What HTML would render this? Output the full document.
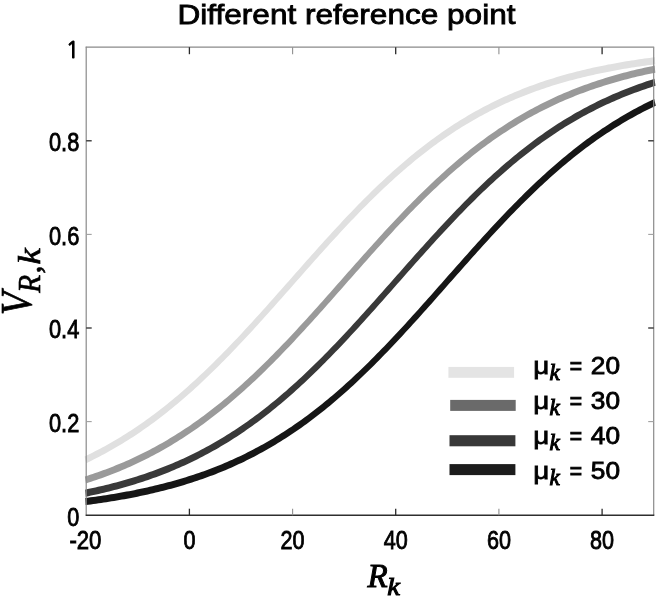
<!DOCTYPE html>
<html lang="en"><head><meta charset="utf-8"><title>Different reference point</title>
<style>
html,body{margin:0;padding:0;background:#fff;}
body{width:657px;height:597px;overflow:hidden;}
svg{display:block;}
text{font-family:"Liberation Sans",Arial,sans-serif;fill:#000;}
.tk{font-size:25px;stroke:#000;stroke-width:0.85px;}
.lg text,.lg tspan{stroke:#000;stroke-width:0.8px;}
.tt text{stroke:#000;stroke-width:0.85px;}
.ax text{stroke:#000;stroke-width:0.7px;}
.xl text{stroke-width:1px;}
.it{font-family:"Liberation Serif","DejaVu Serif",serif;font-style:italic;}
</style></head><body>
<svg width="657" height="597" viewBox="0 0 657 597">
<rect width="657" height="597" fill="#fff"/>
<defs><clipPath id="c"><rect x="83.2" y="47.2" width="573.5" height="468.0"/></clipPath></defs>

<g clip-path="url(#c)"><g transform="scale(0.70,1)" fill="none" stroke-width="7.1" stroke-linejoin="round">
<path d="M122.04 459.78 L125.74 458.54 L129.43 457.28 L133.13 456.00 L136.83 454.69 L140.53 453.35 L144.23 451.99 L147.93 450.61 L151.63 449.20 L155.32 447.76 L159.02 446.30 L162.72 444.81 L166.42 443.30 L170.12 441.76 L173.82 440.19 L177.51 438.60 L181.21 436.98 L184.91 435.33 L188.61 433.66 L192.31 431.95 L196.01 430.22 L199.71 428.46 L203.40 426.67 L207.10 424.86 L210.80 423.02 L214.50 421.14 L218.20 419.25 L221.90 417.32 L225.59 415.36 L229.29 413.38 L232.99 411.36 L236.69 409.32 L240.39 407.25 L244.09 405.15 L247.79 403.03 L251.48 400.87 L255.18 398.69 L258.88 396.48 L262.58 394.25 L266.28 391.98 L269.98 389.69 L273.67 387.37 L277.37 385.03 L281.07 382.66 L284.77 380.26 L288.47 377.84 L292.17 375.39 L295.87 372.92 L299.56 370.42 L303.26 367.90 L306.96 365.36 L310.66 362.79 L314.36 360.20 L318.06 357.59 L321.75 354.95 L325.45 352.30 L329.15 349.63 L332.85 346.93 L336.55 344.22 L340.25 341.49 L343.95 338.74 L347.64 335.97 L351.34 333.19 L355.04 330.39 L358.74 327.57 L362.44 324.75 L366.14 321.91 L369.83 319.05 L373.53 316.19 L377.23 313.31 L380.93 310.43 L384.63 307.54 L388.33 304.63 L392.03 301.72 L395.72 298.81 L399.42 295.89 L403.12 292.96 L406.82 290.03 L410.52 287.10 L414.22 284.16 L417.91 281.23 L421.61 278.29 L425.31 275.36 L429.01 272.42 L432.71 269.49 L436.41 266.57 L440.11 263.65 L443.80 260.73 L447.50 257.82 L451.20 254.92 L454.90 252.02 L458.60 249.14 L462.30 246.26 L465.99 243.40 L469.69 240.54 L473.39 237.70 L477.09 234.88 L480.79 232.06 L484.49 229.26 L488.19 226.48 L491.88 223.71 L495.58 220.96 L499.28 218.23 L502.98 215.52 L506.68 212.82 L510.38 210.15 L514.07 207.49 L517.77 204.86 L521.47 202.25 L525.17 199.66 L528.87 197.09 L532.57 194.54 L536.27 192.02 L539.96 189.53 L543.66 187.05 L547.36 184.61 L551.06 182.18 L554.76 179.79 L558.46 177.41 L562.15 175.07 L565.85 172.75 L569.55 170.46 L573.25 168.19 L576.95 165.96 L580.65 163.75 L584.35 161.57 L588.04 159.41 L591.74 157.28 L595.44 155.19 L599.14 153.12 L602.84 151.07 L606.54 149.06 L610.23 147.08 L613.93 145.12 L617.63 143.19 L621.33 141.29 L625.03 139.42 L628.73 137.57 L632.43 135.76 L636.12 133.97 L639.82 132.21 L643.52 130.48 L647.22 128.78 L650.92 127.10 L654.62 125.45 L658.31 123.83 L662.01 122.23 L665.71 120.67 L669.41 119.13 L673.11 117.61 L676.81 116.12 L680.51 114.66 L684.20 113.23 L687.90 111.82 L691.60 110.43 L695.30 109.07 L699.00 107.74 L702.70 106.43 L706.39 105.14 L710.09 103.88 L713.79 102.64 L717.49 101.43 L721.19 100.24 L724.89 99.07 L728.59 97.92 L732.28 96.80 L735.98 95.70 L739.68 94.62 L743.38 93.56 L747.08 92.52 L750.78 91.50 L754.47 90.51 L758.17 89.53 L761.87 88.58 L765.57 87.64 L769.27 86.72 L772.97 85.82 L776.67 84.94 L780.36 84.08 L784.06 83.24 L787.76 82.41 L791.46 81.60 L795.16 80.81 L798.86 80.04 L802.55 79.28 L806.25 78.54 L809.95 77.81 L813.65 77.10 L817.35 76.41 L821.05 75.73 L824.75 75.06 L828.44 74.41 L832.14 73.78 L835.84 73.16 L839.54 72.55 L843.24 71.95 L846.94 71.37 L850.63 70.80 L854.33 70.25 L858.03 69.70 L861.73 69.17 L865.43 68.65 L869.13 68.14 L872.83 67.65 L876.52 67.16 L880.22 66.69 L883.92 66.22 L887.62 65.77 L891.32 65.33 L895.02 64.90 L898.72 64.48 L902.41 64.06 L906.11 63.66 L909.81 63.27 L913.51 62.88 L917.21 62.50 L920.91 62.14 L924.60 61.78 L928.30 61.43 L932.00 61.09 L935.70 60.75" stroke="#e0e0e0"/>
<path d="M122.04 479.94 L125.74 479.12 L129.43 478.27 L133.13 477.41 L136.83 476.53 L140.53 475.63 L144.23 474.71 L147.93 473.77 L151.63 472.82 L155.32 471.84 L159.02 470.84 L162.72 469.82 L166.42 468.79 L170.12 467.73 L173.82 466.64 L177.51 465.54 L181.21 464.42 L184.91 463.27 L188.61 462.10 L192.31 460.91 L196.01 459.69 L199.71 458.45 L203.40 457.19 L207.10 455.90 L210.80 454.59 L214.50 453.25 L218.20 451.89 L221.90 450.51 L225.59 449.10 L229.29 447.66 L232.99 446.20 L236.69 444.71 L240.39 443.19 L244.09 441.65 L247.79 440.08 L251.48 438.48 L255.18 436.86 L258.88 435.21 L262.58 433.53 L266.28 431.83 L269.98 430.09 L273.67 428.33 L277.37 426.54 L281.07 424.73 L284.77 422.88 L288.47 421.01 L292.17 419.11 L295.87 417.18 L299.56 415.22 L303.26 413.23 L306.96 411.22 L310.66 409.17 L314.36 407.10 L318.06 405.00 L321.75 402.87 L325.45 400.72 L329.15 398.53 L332.85 396.32 L336.55 394.08 L340.25 391.82 L343.95 389.52 L347.64 387.20 L351.34 384.86 L355.04 382.48 L358.74 380.09 L362.44 377.66 L366.14 375.21 L369.83 372.74 L373.53 370.24 L377.23 367.72 L380.93 365.17 L384.63 362.60 L388.33 360.01 L392.03 357.40 L395.72 354.76 L399.42 352.11 L403.12 349.43 L406.82 346.73 L410.52 344.02 L414.22 341.29 L417.91 338.54 L421.61 335.77 L425.31 332.98 L429.01 330.18 L432.71 327.37 L436.41 324.54 L440.11 321.70 L443.80 318.85 L447.50 315.98 L451.20 313.11 L454.90 310.22 L458.60 307.33 L462.30 304.42 L465.99 301.51 L469.69 298.60 L473.39 295.67 L477.09 292.75 L480.79 289.82 L484.49 286.88 L488.19 283.95 L491.88 281.01 L495.58 278.08 L499.28 275.14 L502.98 272.21 L506.68 269.28 L510.38 266.36 L514.07 263.43 L517.77 260.52 L521.47 257.61 L525.17 254.71 L528.87 251.81 L532.57 248.93 L536.27 246.05 L539.96 243.19 L543.66 240.34 L547.36 237.50 L551.06 234.67 L554.76 231.86 L558.46 229.06 L562.15 226.28 L565.85 223.51 L569.55 220.77 L573.25 218.03 L576.95 215.32 L580.65 212.63 L584.35 209.96 L588.04 207.30 L591.74 204.67 L595.44 202.06 L599.14 199.47 L602.84 196.90 L606.54 194.36 L610.23 191.84 L613.93 189.35 L617.63 186.88 L621.33 184.43 L625.03 182.01 L628.73 179.61 L632.43 177.24 L636.12 174.90 L639.82 172.58 L643.52 170.29 L647.22 168.03 L650.92 165.80 L654.62 163.59 L658.31 161.41 L662.01 159.26 L665.71 157.13 L669.41 155.04 L673.11 152.97 L676.81 150.93 L680.51 148.92 L684.20 146.93 L687.90 144.98 L691.60 143.05 L695.30 141.15 L699.00 139.28 L702.70 137.44 L706.39 135.63 L710.09 133.84 L713.79 132.08 L717.49 130.35 L721.19 128.65 L724.89 126.98 L728.59 125.33 L732.28 123.71 L735.98 122.12 L739.68 120.55 L743.38 119.02 L747.08 117.50 L750.78 116.02 L754.47 114.56 L758.17 113.12 L761.87 111.72 L765.57 110.33 L769.27 108.97 L772.97 107.64 L776.67 106.33 L780.36 105.05 L784.06 103.79 L787.76 102.55 L791.46 101.34 L795.16 100.15 L798.86 98.98 L802.55 97.84 L806.25 96.72 L809.95 95.62 L813.65 94.54 L817.35 93.48 L821.05 92.45 L824.75 91.43 L828.44 90.44 L832.14 89.46 L835.84 88.51 L839.54 87.57 L843.24 86.66 L846.94 85.76 L850.63 84.88 L854.33 84.02 L858.03 83.18 L861.73 82.35 L865.43 81.55 L869.13 80.76 L872.83 79.98 L876.52 79.23 L880.22 78.49 L883.92 77.76 L887.62 77.05 L891.32 76.36 L895.02 75.68 L898.72 75.02 L902.41 74.37 L906.11 73.73 L909.81 73.11 L913.51 72.50 L917.21 71.91 L920.91 71.33 L924.60 70.76 L928.30 70.21 L932.00 69.66 L935.70 69.13" stroke="#9a9a9a"/>
<path d="M122.04 493.16 L125.74 492.63 L129.43 492.08 L133.13 491.53 L136.83 490.96 L140.53 490.37 L144.23 489.78 L147.93 489.17 L151.63 488.54 L155.32 487.91 L159.02 487.25 L162.72 486.59 L166.42 485.90 L170.12 485.21 L173.82 484.50 L177.51 483.77 L181.21 483.02 L184.91 482.26 L188.61 481.49 L192.31 480.69 L196.01 479.88 L199.71 479.06 L203.40 478.21 L207.10 477.35 L210.80 476.46 L214.50 475.56 L218.20 474.64 L221.90 473.70 L225.59 472.75 L229.29 471.77 L232.99 470.77 L236.69 469.75 L240.39 468.71 L244.09 467.65 L247.79 466.57 L251.48 465.46 L255.18 464.33 L258.88 463.19 L262.58 462.01 L266.28 460.82 L269.98 459.60 L273.67 458.36 L277.37 457.10 L281.07 455.81 L284.77 454.49 L288.47 453.16 L292.17 451.79 L295.87 450.41 L299.56 448.99 L303.26 447.55 L306.96 446.09 L310.66 444.60 L314.36 443.08 L318.06 441.54 L321.75 439.96 L325.45 438.37 L329.15 436.74 L332.85 435.09 L336.55 433.41 L340.25 431.70 L343.95 429.97 L347.64 428.20 L351.34 426.41 L355.04 424.59 L358.74 422.75 L362.44 420.87 L366.14 418.97 L369.83 417.04 L373.53 415.07 L377.23 413.09 L380.93 411.07 L384.63 409.02 L388.33 406.95 L392.03 404.85 L395.72 402.72 L399.42 400.56 L403.12 398.37 L406.82 396.16 L410.52 393.92 L414.22 391.65 L417.91 389.36 L421.61 387.03 L425.31 384.69 L429.01 382.31 L432.71 379.91 L436.41 377.49 L440.11 375.03 L443.80 372.56 L447.50 370.06 L451.20 367.53 L454.90 364.99 L458.60 362.42 L462.30 359.82 L465.99 357.21 L469.69 354.57 L473.39 351.91 L477.09 349.24 L480.79 346.54 L484.49 343.82 L488.19 341.09 L491.88 338.34 L495.58 335.57 L499.28 332.78 L502.98 329.98 L506.68 327.17 L510.38 324.34 L514.07 321.49 L517.77 318.64 L521.47 315.77 L525.17 312.90 L528.87 310.01 L532.57 307.12 L536.27 304.21 L539.96 301.30 L543.66 298.38 L547.36 295.46 L551.06 292.53 L554.76 289.60 L558.46 286.67 L562.15 283.74 L565.85 280.80 L569.55 277.87 L573.25 274.93 L576.95 272.00 L580.65 269.07 L584.35 266.14 L588.04 263.22 L591.74 260.31 L595.44 257.40 L599.14 254.50 L602.84 251.60 L606.54 248.72 L610.23 245.85 L613.93 242.98 L617.63 240.13 L621.33 237.29 L625.03 234.47 L628.73 231.66 L632.43 228.86 L636.12 226.08 L639.82 223.31 L643.52 220.57 L647.22 217.84 L650.92 215.13 L654.62 212.43 L658.31 209.76 L662.01 207.11 L665.71 204.48 L669.41 201.87 L673.11 199.28 L676.81 196.72 L680.51 194.18 L684.20 191.66 L687.90 189.17 L691.60 186.70 L695.30 184.25 L699.00 181.83 L702.70 179.44 L706.39 177.07 L710.09 174.73 L713.79 172.42 L717.49 170.13 L721.19 167.87 L724.89 165.64 L728.59 163.43 L732.28 161.25 L735.98 159.10 L739.68 156.98 L743.38 154.88 L747.08 152.82 L750.78 150.78 L754.47 148.77 L758.17 146.79 L761.87 144.84 L765.57 142.91 L769.27 141.02 L772.97 139.15 L776.67 137.31 L780.36 135.50 L784.06 133.71 L787.76 131.96 L791.46 130.23 L795.16 128.53 L798.86 126.86 L802.55 125.21 L806.25 123.60 L809.95 122.01 L813.65 120.44 L817.35 118.91 L821.05 117.40 L824.75 115.91 L828.44 114.45 L832.14 113.02 L835.84 111.61 L839.54 110.23 L843.24 108.88 L846.94 107.55 L850.63 106.24 L854.33 104.96 L858.03 103.70 L861.73 102.46 L865.43 101.25 L869.13 100.06 L872.83 98.90 L876.52 97.76 L880.22 96.64 L883.92 95.54 L887.62 94.46 L891.32 93.41 L895.02 92.37 L898.72 91.36 L902.41 90.36 L906.11 89.39 L909.81 88.44 L913.51 87.50 L917.21 86.59 L920.91 85.69 L924.60 84.82 L928.30 83.96 L932.00 83.12 L935.70 82.29" stroke="#393939"/>
<path d="M122.04 501.58 L125.74 501.25 L129.43 500.90 L133.13 500.55 L136.83 500.19 L140.53 499.82 L144.23 499.44 L147.93 499.06 L151.63 498.66 L155.32 498.26 L159.02 497.84 L162.72 497.42 L166.42 496.98 L170.12 496.54 L173.82 496.08 L177.51 495.62 L181.21 495.14 L184.91 494.65 L188.61 494.16 L192.31 493.65 L196.01 493.12 L199.71 492.59 L203.40 492.04 L207.10 491.49 L210.80 490.91 L214.50 490.33 L218.20 489.73 L221.90 489.12 L225.59 488.50 L229.29 487.86 L232.99 487.21 L236.69 486.54 L240.39 485.85 L244.09 485.16 L247.79 484.44 L251.48 483.72 L255.18 482.97 L258.88 482.21 L262.58 481.43 L266.28 480.64 L269.98 479.82 L273.67 479.00 L277.37 478.15 L281.07 477.28 L284.77 476.40 L288.47 475.50 L292.17 474.58 L295.87 473.64 L299.56 472.68 L303.26 471.70 L306.96 470.70 L310.66 469.67 L314.36 468.63 L318.06 467.57 L321.75 466.49 L325.45 465.38 L329.15 464.25 L332.85 463.10 L336.55 461.93 L340.25 460.73 L343.95 459.51 L347.64 458.27 L351.34 457.00 L355.04 455.71 L358.74 454.40 L362.44 453.06 L366.14 451.69 L369.83 450.30 L373.53 448.89 L377.23 447.45 L380.93 445.98 L384.63 444.49 L388.33 442.97 L392.03 441.42 L395.72 439.85 L399.42 438.25 L403.12 436.62 L406.82 434.97 L410.52 433.29 L414.22 431.58 L417.91 429.84 L421.61 428.08 L425.31 426.28 L429.01 424.46 L432.71 422.61 L436.41 420.73 L440.11 418.83 L443.80 416.89 L447.50 414.93 L451.20 412.94 L454.90 410.92 L458.60 408.87 L462.30 406.80 L465.99 404.69 L469.69 402.56 L473.39 400.40 L477.09 398.21 L480.79 396.00 L484.49 393.76 L488.19 391.49 L491.88 389.19 L495.58 386.87 L499.28 384.51 L502.98 382.14 L506.68 379.74 L510.38 377.31 L514.07 374.86 L517.77 372.38 L521.47 369.88 L525.17 367.35 L528.87 364.80 L532.57 362.23 L536.27 359.63 L539.96 357.02 L543.66 354.38 L547.36 351.72 L551.06 349.04 L554.76 346.34 L558.46 343.62 L562.15 340.89 L565.85 338.14 L569.55 335.37 L573.25 332.58 L576.95 329.78 L580.65 326.96 L584.35 324.13 L588.04 321.29 L591.74 318.43 L595.44 315.57 L599.14 312.69 L602.84 309.80 L606.54 306.90 L610.23 304.00 L613.93 301.09 L617.63 298.17 L621.33 295.25 L625.03 292.32 L628.73 289.39 L632.43 286.46 L636.12 283.52 L639.82 280.59 L643.52 277.65 L647.22 274.72 L650.92 271.79 L654.62 268.86 L658.31 265.93 L662.01 263.01 L665.71 260.10 L669.41 257.19 L673.11 254.29 L676.81 251.39 L680.51 248.51 L684.20 245.64 L687.90 242.78 L691.60 239.93 L695.30 237.09 L699.00 234.26 L702.70 231.45 L706.39 228.66 L710.09 225.88 L713.79 223.11 L717.49 220.37 L721.19 217.64 L724.89 214.93 L728.59 212.24 L732.28 209.57 L735.98 206.92 L739.68 204.29 L743.38 201.68 L747.08 199.10 L750.78 196.53 L754.47 193.99 L758.17 191.48 L761.87 188.99 L765.57 186.52 L769.27 184.08 L772.97 181.66 L776.67 179.27 L780.36 176.90 L784.06 174.56 L787.76 172.25 L791.46 169.96 L795.16 167.71 L798.86 165.47 L802.55 163.27 L806.25 161.09 L809.95 158.95 L813.65 156.83 L817.35 154.73 L821.05 152.67 L824.75 150.63 L828.44 148.63 L832.14 146.65 L835.84 144.70 L839.54 142.77 L843.24 140.88 L846.94 139.01 L850.63 137.18 L854.33 135.37 L858.03 133.59 L861.73 131.83 L865.43 130.11 L869.13 128.41 L872.83 126.74 L876.52 125.10 L880.22 123.48 L883.92 121.89 L887.62 120.33 L891.32 118.80 L895.02 117.29 L898.72 115.80 L902.41 114.35 L906.11 112.92 L909.81 111.51 L913.51 110.13 L917.21 108.78 L920.91 107.45 L924.60 106.15 L928.30 104.87 L932.00 103.61 L935.70 102.38" stroke="#161616"/>
</g></g>
<g fill="none" stroke="#8a8a8a" stroke-width="1.2">
<path d="M85.7 47.2 H654.2"/>
<path d="M86.2 46.7 V515.7"/>
<path d="M653.7 47.2 V515.2"/>
</g>
<path d="M85.7 515.2 H654.3" stroke="#2e2e2e" stroke-width="1.5" fill="none"/>
<g fill="none">
<path d="M189.4 515.2 v-6.5" stroke="#2a2a2a" stroke-width="1.3"/>
<path d="M189.4 47.2 v7" stroke="#2a2a2a" stroke-width="1.3"/>
<path d="M292.6 515.2 v-6.5" stroke="#909090" stroke-width="1.1"/>
<path d="M292.6 47.2 v7" stroke="#909090" stroke-width="1.1"/>
<path d="M395.7 515.2 v-6.5" stroke="#2a2a2a" stroke-width="1.3"/>
<path d="M395.7 47.2 v7" stroke="#2a2a2a" stroke-width="1.3"/>
<path d="M498.9 515.2 v-6.5" stroke="#909090" stroke-width="1.1"/>
<path d="M498.9 47.2 v7" stroke="#909090" stroke-width="1.1"/>
<path d="M602.1 515.2 v-6.5" stroke="#2a2a2a" stroke-width="1.3"/>
<path d="M602.1 47.2 v7" stroke="#2a2a2a" stroke-width="1.3"/>
<path d="M86.2 421.6 h5.5" stroke="#a0a0a0" stroke-width="1.1"/>
<path d="M653.7 421.6 h-5.5" stroke="#a0a0a0" stroke-width="1.1"/>
<path d="M86.2 328.0 h5.5" stroke="#2a2a2a" stroke-width="1.3"/>
<path d="M653.7 328.0 h-5.5" stroke="#2a2a2a" stroke-width="1.3"/>
<path d="M86.2 234.4 h5.5" stroke="#a0a0a0" stroke-width="1.1"/>
<path d="M653.7 234.4 h-5.5" stroke="#a0a0a0" stroke-width="1.1"/>
<path d="M86.2 140.8 h5.5" stroke="#2a2a2a" stroke-width="1.3"/>
<path d="M653.7 140.8 h-5.5" stroke="#2a2a2a" stroke-width="1.3"/>
</g>
<text class="tk" x="79.3" y="525.5" text-anchor="end" textLength="12.0" lengthAdjust="spacingAndGlyphs">0</text>
<text class="tk" x="79.3" y="431.9" text-anchor="end" textLength="30.3" lengthAdjust="spacingAndGlyphs">0.2</text>
<text class="tk" x="79.3" y="338.3" text-anchor="end" textLength="30.3" lengthAdjust="spacingAndGlyphs">0.4</text>
<text class="tk" x="79.3" y="244.7" text-anchor="end" textLength="30.3" lengthAdjust="spacingAndGlyphs">0.6</text>
<text class="tk" x="79.3" y="151.1" text-anchor="end" textLength="30.3" lengthAdjust="spacingAndGlyphs">0.8</text>
<text class="tk" x="79.5" y="57.5" text-anchor="end" style="font-family:NanumGothic,'Liberation Sans',sans-serif;font-size:22.5px;stroke-width:1px">1</text>
<text class="tk" x="85.4" y="549.2" text-anchor="middle" textLength="32.0" lengthAdjust="spacingAndGlyphs">-20</text>
<text class="tk" x="189.4" y="549.2" text-anchor="middle" textLength="12.0" lengthAdjust="spacingAndGlyphs">0</text>
<text class="tk" x="292.6" y="549.2" text-anchor="middle" textLength="24.0" lengthAdjust="spacingAndGlyphs">20</text>
<text class="tk" x="395.7" y="549.2" text-anchor="middle" textLength="24.0" lengthAdjust="spacingAndGlyphs">40</text>
<text class="tk" x="498.9" y="549.2" text-anchor="middle" textLength="24.0" lengthAdjust="spacingAndGlyphs">60</text>
<text class="tk" x="602.1" y="549.2" text-anchor="middle" textLength="24.0" lengthAdjust="spacingAndGlyphs">80</text>
<g class="tt">
<text x="177.5" y="23.9" font-size="28.5" textLength="338" lengthAdjust="spacingAndGlyphs">Different reference point</text>
</g>
<g class="ax" transform="translate(31.3,281) rotate(-90)">
<text class="it" font-size="32"><tspan x="-34.3" y="0" font-size="44" textLength="23.5" lengthAdjust="spacingAndGlyphs">V</tspan><tspan x="-11.8" y="8.8" textLength="17.8" lengthAdjust="spacingAndGlyphs">R</tspan><tspan x="7.6" y="8.8">,</tspan><tspan x="16.6" y="8.8" textLength="16.3" lengthAdjust="spacingAndGlyphs">k</tspan></text>
</g>
<g class="ax xl">
<text class="it"><tspan x="367.6" y="586.6" font-size="33">R</tspan><tspan x="387.2" y="594.5" font-size="25" textLength="12.6" lengthAdjust="spacingAndGlyphs">k</tspan></text>
</g>
<g class="lg">
<rect x="448.4" y="366.9" width="65.7" height="10.9" fill="#e4e4e4"/>
<text y="374.3" font-size="23"><tspan x="533.3" font-size="24.5" textLength="16" lengthAdjust="spacingAndGlyphs">μ</tspan><tspan class="it" x="549.6" y="379.9" style="stroke-width:1px">k</tspan><tspan x="566" y="374.3" font-size="8"> </tspan><tspan x="569.8" y="374.3" textLength="12.3" lengthAdjust="spacingAndGlyphs" style="stroke-width:1.1px">=</tspan><tspan x="586" font-size="8"> </tspan><tspan x="590.8" textLength="29.2" lengthAdjust="spacingAndGlyphs">20</tspan></text>
<rect x="450.2" y="399.9" width="65.5" height="11.0" fill="#6a6a6a"/>
<text y="409.2" font-size="23"><tspan x="533.3" font-size="24.5" textLength="16" lengthAdjust="spacingAndGlyphs">μ</tspan><tspan class="it" x="549.6" y="414.8" style="stroke-width:1px">k</tspan><tspan x="566" y="409.2" font-size="8"> </tspan><tspan x="569.8" y="409.2" textLength="12.3" lengthAdjust="spacingAndGlyphs" style="stroke-width:1.1px">=</tspan><tspan x="586" font-size="8"> </tspan><tspan x="590.8" textLength="29.2" lengthAdjust="spacingAndGlyphs">30</tspan></text>
<rect x="449.5" y="435.2" width="65.9" height="11.1" fill="#383838"/>
<text y="444.3" font-size="23"><tspan x="533.3" font-size="24.5" textLength="16" lengthAdjust="spacingAndGlyphs">μ</tspan><tspan class="it" x="549.6" y="449.9" style="stroke-width:1px">k</tspan><tspan x="566" y="444.3" font-size="8"> </tspan><tspan x="569.8" y="444.3" textLength="12.3" lengthAdjust="spacingAndGlyphs" style="stroke-width:1.1px">=</tspan><tspan x="586" font-size="8"> </tspan><tspan x="590.8" textLength="29.2" lengthAdjust="spacingAndGlyphs">40</tspan></text>
<rect x="449.5" y="464.1" width="65.9" height="11.0" fill="#1c1c1c"/>
<text y="479.3" font-size="23"><tspan x="533.3" font-size="24.5" textLength="16" lengthAdjust="spacingAndGlyphs">μ</tspan><tspan class="it" x="549.6" y="484.9" style="stroke-width:1px">k</tspan><tspan x="566" y="479.3" font-size="8"> </tspan><tspan x="569.8" y="479.3" textLength="12.3" lengthAdjust="spacingAndGlyphs" style="stroke-width:1.1px">=</tspan><tspan x="586" font-size="8"> </tspan><tspan x="590.8" textLength="29.2" lengthAdjust="spacingAndGlyphs">50</tspan></text>
</g>
</svg></body></html>
